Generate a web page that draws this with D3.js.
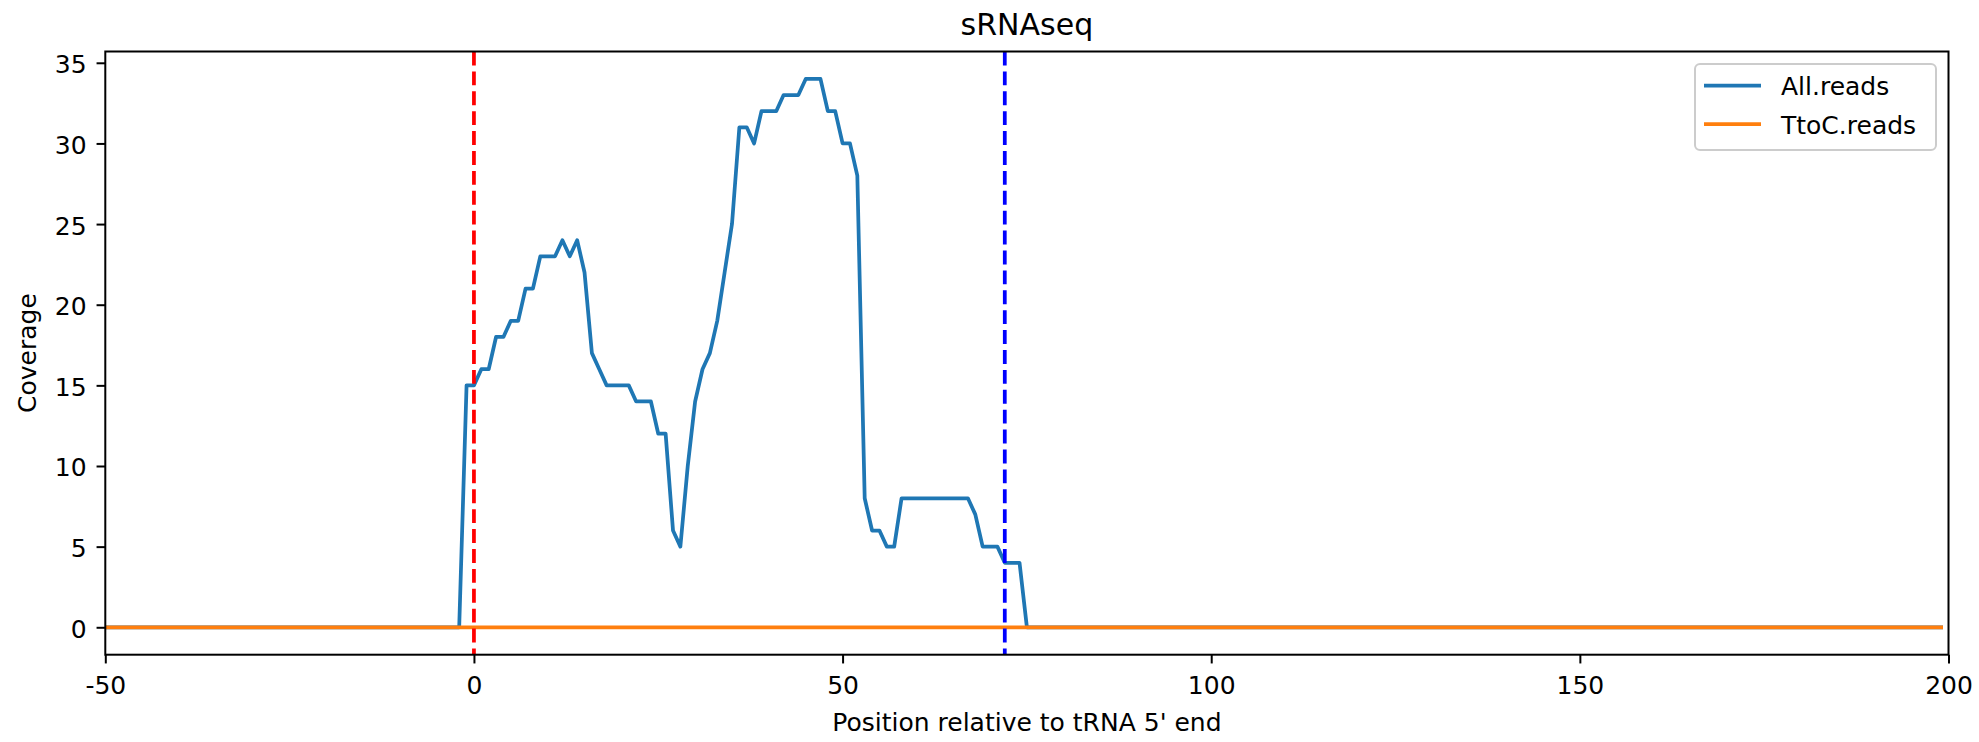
<!DOCTYPE html>
<html>
<head>
<meta charset="utf-8">
<script src="https://cdn.jsdelivr.net/npm/d3@7"></script>
<style>
  html, body { margin: 0; padding: 0; background: #fff; }
  svg { display: block; font-family: "DejaVu Sans", sans-serif; }
</style>
</head>
<body>
<svg id="chart" width="1979" height="742"></svg>
<script>
// ---- Data ----
const positions = d3.range(-50, 200); // -50 .. 199
const allReads = [
  0,0,0,0,0,0,0,0,0,0,0,0,0,0,0,0,0,0,0,0,0,0,0,0,0,          // -50..-26
  0,0,0,0,0,0,0,0,0,0,0,0,0,0,0,0,0,0,0,0,0,0,0,0,15,         // -25..-1
  15,16,16,18,18,19,19,21,21,23,23,23,24,23,24,22,17,16,15,15,15,15,14,14,14, // 0..24
  12,12,6,5,10,14,16,17,19,22,25,31,31,30,32,32,32,33,33,33,34,34,34,32,32,   // 25..49
  30,30,28,8,6,6,5,5,8,8,8,8,8,8,8,8,8,8,7,5,5,5,4,4,4,                      // 50..74
  0,0,0,0,0,0,0,0,0,0,0,0,0,0,0,0,0,0,0,0,0,0,0,0,0,          // 75..99
  0,0,0,0,0,0,0,0,0,0,0,0,0,0,0,0,0,0,0,0,0,0,0,0,0,          // 100..124
  0,0,0,0,0,0,0,0,0,0,0,0,0,0,0,0,0,0,0,0,0,0,0,0,0,          // 125..149
  0,0,0,0,0,0,0,0,0,0,0,0,0,0,0,0,0,0,0,0,0,0,0,0,0,          // 150..174
  0,0,0,0,0,0,0,0,0,0,0,0,0,0,0,0,0,0,0,0,0,0,0,0,0           // 175..199
];
const ttocReads = positions.map(() => 0); // all zero in the picture
const seriesNames = ["All.reads", "TtoC.reads"];
const seriesColors = ["#1f77b4", "#ff7f0e"];
const vLines = [0, 72];
const vLineColors = ["#ff0000", "#0000ff"];
const xTicks = [-50, 0, 50, 100, 150, 200];
const yTicks = [0, 5, 10, 15, 20, 25, 30, 35];
const titleText = "sRNAseq";
const xLabel = "Position relative to tRNA 5' end";
const yLabel = "Coverage";

// ---- Layout ----
const pL = 105.3, pR = 1948.5, pT = 51.5, pB = 654.7;
const FS = 25;

const svg = d3.select("#chart");
const x = d3.scaleLinear().domain([-50, 200]).range([pL, pR]);
const y = d3.scaleLinear().domain([-1.7, 35.7]).range([pB, pT]);

svg.append("defs").append("clipPath").attr("id", "clip")
  .append("rect").attr("x", pL).attr("y", pT)
  .attr("width", pR - pL).attr("height", pB - pT);

const plot = svg.append("g").attr("clip-path", "url(#clip)");

const line = d3.line().x((d, i) => x(positions[i])).y(d => y(d));

plot.append("path").datum(allReads)
  .attr("d", line).attr("fill", "none")
  .attr("stroke", seriesColors[0]).attr("stroke-width", 3.75)
  .attr("stroke-linejoin", "round").attr("stroke-linecap", "square");

plot.append("path").datum(ttocReads)
  .attr("d", line).attr("fill", "none")
  .attr("stroke", seriesColors[1]).attr("stroke-width", 3.75)
  .attr("stroke-linejoin", "round").attr("stroke-linecap", "square");

vLines.forEach((v, i) => {
  plot.append("line")
    .attr("x1", x(v)).attr("x2", x(v))
    .attr("y1", pT).attr("y2", pB)
    .attr("stroke", vLineColors[i]).attr("stroke-width", 3.75)
    .attr("stroke-dasharray", "13.9,6");
});

// ---- Axes ----
const xAxis = d3.axisBottom(x).tickValues(xTicks).tickSize(8.75).tickPadding(12.8)
  .tickFormat(d => String(d));
const yAxis = d3.axisLeft(y).tickValues(yTicks).tickSize(8.75).tickPadding(10)
  .tickFormat(d => String(d));

const gx = svg.append("g").attr("transform", `translate(0,${pB})`).call(xAxis);
const gy = svg.append("g").attr("transform", `translate(${pL},0)`).call(yAxis);
[gx, gy].forEach(g => {
  g.select(".domain").remove();
  g.selectAll(".tick line").attr("stroke", "#000").attr("stroke-width", 2);
  g.selectAll(".tick text").attr("fill", "#000").style("font-size", FS + "px")
    .style("font-family", "DejaVu Sans");
});
gy.selectAll(".tick text").attr("dy", "0.4em");

// spines
svg.append("rect").attr("x", pL).attr("y", pT)
  .attr("width", pR - pL).attr("height", pB - pT)
  .attr("fill", "none").attr("stroke", "#000").attr("stroke-width", 2);

// ---- Titles ----
svg.append("text").attr("x", (pL + pR) / 2).attr("y", 35)
  .attr("text-anchor", "middle").style("font-size", "30px").text(titleText);
svg.append("text").attr("x", (pL + pR) / 2).attr("y", 731)
  .attr("text-anchor", "middle").style("font-size", FS + "px").text(xLabel);
svg.append("text").attr("transform", `translate(36,${(pT + pB) / 2}) rotate(-90)`)
  .attr("text-anchor", "middle").style("font-size", FS + "px").text(yLabel);

// ---- Legend ----
const lg = svg.append("g");
lg.append("rect").attr("x", 1695).attr("y", 64).attr("width", 241).attr("height", 86)
  .attr("rx", 5).attr("fill", "#fff").attr("fill-opacity", 0.8)
  .attr("stroke", "#cccccc").attr("stroke-width", 2);
seriesNames.forEach((name, i) => {
  const yy = 85.5 + i * 38.5;
  lg.append("line").attr("x1", 1704).attr("x2", 1761).attr("y1", yy).attr("y2", yy)
    .attr("stroke", seriesColors[i]).attr("stroke-width", 3.75);
  lg.append("text").attr("x", 1781).attr("y", yy + 9.5)
    .style("font-size", FS + "px").text(name);
});
</script>
</body>
</html>
